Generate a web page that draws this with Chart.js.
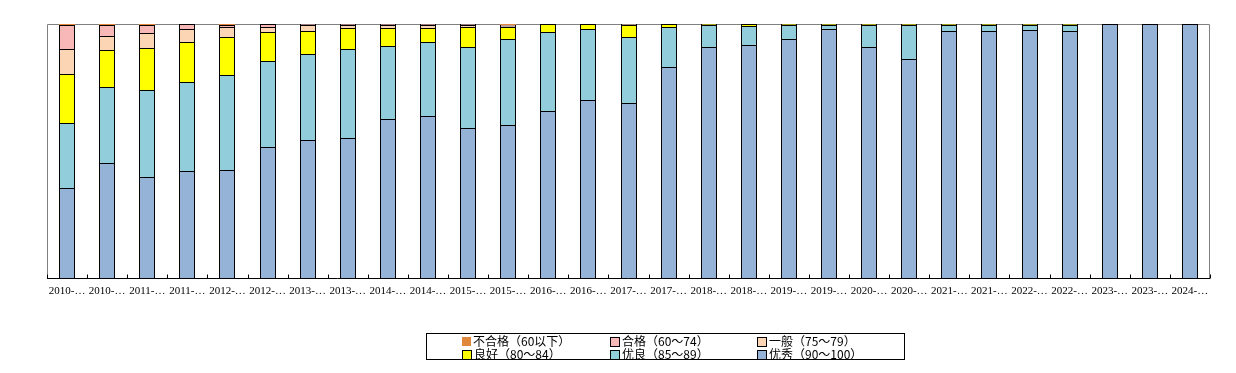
<!DOCTYPE html>
<html><head><meta charset="utf-8">
<script src="https://cdn.jsdelivr.net/npm/chart.js@4"></script>
<style>
html,body{margin:0;padding:0;background:#fff;}
#wrap{position:relative;width:1236px;height:373px;}
#legend{position:absolute;left:426px;top:333px;width:477px;height:25px;border:1px solid #000;font-family:"Noto Sans CJK SC",sans-serif;font-size:12px;color:#000;}
.li{position:absolute;height:14px;line-height:14px;white-space:nowrap;}
.sw{display:inline-block;width:8px;height:8px;border:1px solid #000;vertical-align:middle;margin-right:2px;position:relative;top:-1px;}
</style></head>
<body><div id="wrap"><canvas id="c" width="1236" height="373"></canvas><div id="legend"></div></div>
<script>
const labels = ["2010-…","2010-…","2011-…","2011-…","2012-…","2012-…","2013-…","2013-…","2014-…","2014-…","2015-…","2015-…","2016-…","2016-…","2017-…","2017-…","2018-…","2018-…","2019-…","2019-…","2020-…","2020-…","2021-…","2021-…","2022-…","2022-…","2023-…","2023-…","2024-…"];
const seriesNames = ["不合格（60以下）","合格（60～74）","一般（75～79）","良好（80～84）","优良（85～89）","优秀（90～100）"];
const failVals      = [0.5,0.3,0.3,0,0.3,0,0,0,0,0,0,0.3,0,0,0,0,0,0,0,0,0,0,0,0,0,0,0,0,0];
const passVals      = [9.4,4.3,3.3,2.0,0.8,1.2,0.4,0.4,0.4,0.4,0.5,0.5,0,0,0,0,0,0,0,0,0,0,0,0,0,0,0,0,0];
const averageVals   = [9.7,5.6,5.9,5.1,4.0,2.0,2.4,1.3,1.3,1.3,0.7,0.4,0,0,0.3,0,0,0,0,0,0,0,0,0,0,0,0,0,0];
const goodVals      = [19.3,14.5,16.3,15.7,14.9,11.4,9.0,8.1,6.9,5.4,7.8,4.6,3.1,2.0,4.7,1.2,0.4,0.8,0.4,0.4,0.4,0.3,0.4,0.4,0.4,0.4,0,0,0];
const fineVals      = [25.5,29.8,34.2,34.9,37.3,33.6,33.7,34.9,28.5,29.0,31.8,33.7,31.0,27.8,25.9,15.7,8.6,7.5,5.5,1.6,8.6,13.3,2.4,2.4,2.0,2.4,0,0,0];
const excellentVals = [35.7,45.5,40.0,42.4,42.7,51.9,54.5,55.3,62.9,63.9,59.2,60.5,65.9,70.2,69.1,83.1,91.0,91.8,94.1,98.0,91.0,86.3,97.2,97.2,97.6,97.2,100,100,100];
const colors = ["#E0873B","#F9B8B8","#FCD5B5","#FFFF00","#92CDDC","#95B3D7"];
const seriesVals = [failVals,passVals,averageVals,goodVals,fineVals,excellentVals];

// stacking order: bottom = 优秀
const datasets = [];
for (let i = seriesVals.length - 1; i >= 0; i--) {
  datasets.push({
    label: seriesNames[i], data: seriesVals[i], backgroundColor: colors[i],
    borderColor: "#000", borderWidth: i === 0 ? 0 : 1, borderSkipped: 'start',
    barPercentage: 0.4, categoryPercentage: 1.0
  });
}

const framePlugin = {
  id: 'frame',
  beforeDatasetsDraw(chart) {
    const {ctx, chartArea: a} = chart;
    // snap bar elements to whole pixels for crisp 1px borders
    chart.data.datasets.forEach((ds, di) => {
      chart.getDatasetMeta(di).data.forEach(el => {
        el.x = Math.round(el.x); el.y = Math.round(el.y);
        el.base = Math.round(el.base); el.width = Math.round(el.width);
      });
    });
    ctx.save(); ctx.strokeStyle = "#808080"; ctx.lineWidth = 1;
    ctx.beginPath();
    ctx.moveTo(Math.round(a.left)+0.5, Math.round(a.bottom));
    ctx.lineTo(Math.round(a.left)+0.5, Math.round(a.top)+0.5);
    ctx.lineTo(Math.round(a.right)-0.5, Math.round(a.top)+0.5);
    ctx.lineTo(Math.round(a.right)-0.5, Math.round(a.bottom));
    ctx.stroke(); ctx.restore();
  },
  afterDatasetsDraw(chart) {
    const {ctx, chartArea: a} = chart; const xs = chart.scales.x;
    ctx.save(); ctx.strokeStyle = "#000"; ctx.lineWidth = 1;
    const yb = Math.round(a.bottom) - 0.5;
    ctx.beginPath(); ctx.moveTo(a.left, yb); ctx.lineTo(a.right, yb); ctx.stroke();
    const n = labels.length;
    const step = (xs.getPixelForValue(1) - xs.getPixelForValue(0));
    for (let i = 0; i <= n; i++) {
      const x = Math.round(xs.getPixelForValue(i) - step/2) + 0.5;
      ctx.beginPath(); ctx.moveTo(x, yb); ctx.lineTo(x, yb - 4); ctx.stroke();
    }
    ctx.restore();
  }
};

new Chart(document.getElementById('c'), {
  type: 'bar',
  data: { labels, datasets },
  options: {
    responsive: false, animation: false,
    layout: { padding: { left: 47, right: 26, top: 24, bottom: 74 } },
    plugins: { legend: { display: false }, tooltip: { enabled: false } },
    scales: {
      x: {
        stacked: true, offset: true,
        grid: { display: false, drawTicks: false },
        border: { display: false },
        ticks: { autoSkip: false, maxRotation: 0, minRotation: 0, padding: 6, color: "#000",
                 font: { family: "Liberation Serif", size: 11 } },
        afterFit(s) { s.height = 20; }
      },
      y: { stacked: true, min: 0, max: 100, display: false }
    }
  },
  plugins: [framePlugin]
});

// HTML legend
const lg = document.getElementById('legend');
const colX = [35, 183, 330];
seriesNames.forEach((name, i) => {
  const d = document.createElement('div'); d.className = 'li';
  d.style.left = colX[i % 3] + 'px'; d.style.top = (i < 3 ? 0 : 13) + 'px';
  const sw = document.createElement('span'); sw.className = 'sw'; sw.style.background = colors[i];
  if (i === 0) { sw.style.border = 'none'; sw.style.width = '9px'; sw.style.height = '9px'; }
  d.appendChild(sw); d.appendChild(document.createTextNode(name));
  lg.appendChild(d);
});
</script></body></html>
